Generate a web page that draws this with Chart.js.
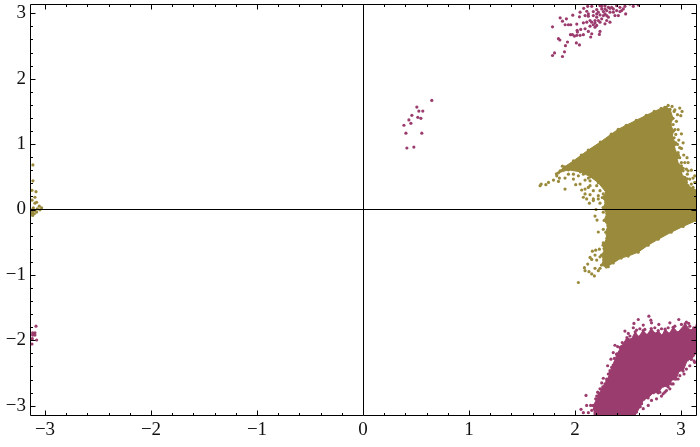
<!DOCTYPE html>
<html>
<head>
<meta charset="utf-8">
<script src="https://cdn.jsdelivr.net/npm/chart.js@4"></script>
<style>
body { margin: 0; background: #fff; }
canvas { display: block; }
</style>
</head>
<body>
<canvas id="myChart" width="700" height="447"></canvas>
<script>
// outline of the solid part of each cloud
var oliveOutline = [[1.825,.545],[1.9,.652],[1.985,.742],[2.06,.833],[2.126,.909],[2.239,1.03],[2.342,1.152],[2.408,1.227],[2.483,1.288],[2.578,1.364],[2.672,1.439],[2.747,1.5],[2.813,1.545],[2.86,1.561],[2.897,1.53],[2.925,1.394],[2.9,1.3],[2.93,1.2],[2.915,1.1],[2.95,1.02],[2.935,.93],[2.975,.83],[2.96,.74],[3.02,.63],[3.0,.54],[3.06,.47],[3.05,.38],[3.151,.288],[3.151,-.136],[3.142,-.167],[3.02,-.258],[2.907,-.348],[2.785,-.455],[2.69,-.545],[2.596,-.652],[2.502,-.712],[2.436,-.742],[2.361,-.818],[2.295,-.879],[2.25,-.85],[2.27,-.77],[2.25,-.697],[2.28,-.62],[2.265,-.545],[2.3,-.44],[2.29,-.348],[2.31,-.25],[2.275,-.167],[2.3,-.06],[2.265,.03],[2.29,.11],[2.258,.182],[2.295,.258],[2.22,.409],[2.145,.5],[2.05,.576],[1.938,.606],[1.844,.561]];
var maroonOutline = [[2.175,-3.0],[2.225,-2.818],[2.262,-2.712],[2.3,-2.621],[2.33,-2.5],[2.36,-2.379],[2.395,-2.212],[2.44,-2.091],[2.49,-1.96],[2.53,-1.99],[2.568,-1.87],[2.6,-1.95],[2.643,-1.85],[2.68,-1.92],[2.719,-1.82],[2.76,-1.9],[2.785,-1.85],[2.82,-1.93],[2.85,-1.83],[2.89,-1.9],[2.926,-1.8],[2.97,-1.88],[3.039,-1.75],[3.09,-1.85],[3.151,-1.77],[3.151,-2.182],[3.095,-2.288],[3.06,-2.3],[3.02,-2.47],[2.985,-2.46],[2.954,-2.591],[2.92,-2.59],[2.879,-2.712],[2.83,-2.7],[2.785,-2.803],[2.74,-2.8],[2.69,-2.88],[2.65,-2.9],[2.615,-3.015],[2.559,-3.167],[2.175,-3.167]];

// loose points around the clouds
var oliveUpperTail = [[1.671,.364],[1.681,.389],[1.725,.379],[1.75,.414],[1.797,.45],[1.844,.429],[1.853,.48],[1.828,.515],[1.86,.591],[1.881,.662],[1.906,.313],[1.938,.54],[1.906,.48],[1.985,.465],[2.007,.379],[2.048,.389],[2.063,.298],[2.095,.238],[2.126,.338],[2.095,.45],[2.142,.439],[2.173,.162],[2.22,.212],[2.11,.162],[2.205,.364],[2.251,.414],[1.985,.54],[2.032,.515],[2.079,.54],[2.126,.48],[2.173,.515],[2.22,.465],[2.142,.364],[2.173,.288],[2.095,.313],[2.236,.288],[2.142,.227],[2.079,.187],[2.22,.162],[2.267,.238],[2.299,.313]];
var oliveRightEdge = [[2.988,1.55],[3.01,1.5],[2.967,1.45],[2.998,1.434],[2.942,1.222],[2.951,1.147],[3.004,1.157],[2.979,1.061],[3.02,1.02],[2.942,.995],[2.988,.945],[3.004,.934],[3.026,.833],[2.967,.793],[3.057,.793],[3.004,.667],[3.067,.717],[3.051,.616],[3.098,.601],[3.06,.54],[3.114,.48],[3.13,.515],[3.13,.414],[3.067,.364],[3.114,.338],[3.083,.263],[3.13,.177],[2.935,1.5],[2.957,1.348],[2.926,1.298],[2.973,1.222],[2.935,1.096],[2.967,.995],[2.942,.894],[2.973,.869],[2.988,.793],[2.957,.717],[3.004,.717],[3.036,.717],[3.02,.591],[2.988,.566],[3.067,.591],[3.036,.49],[3.083,.465],[3.02,.414],[3.051,.414],[3.098,.389],[3.067,.288],[3.02,.288],[3.036,.212],[3.098,.238],[2.847,1.561],[2.879,1.591],[2.916,1.576],[2.942,1.525]];
var oliveLowerTail = [[2.136,.096],[2.173,.136],[2.198,-.0],[2.236,.096],[2.267,-.041],[2.189,-.101],[2.208,-.162],[2.22,-.344],[2.267,-.303],[2.267,-.51],[2.164,-.637],[2.195,-.622],[2.23,-.606],[2.274,-.596],[2.142,-.733],[2.189,-.697],[2.158,-.763],[2.12,-.834],[2.205,-.773],[2.236,-.723],[2.089,-.889],[2.095,-.935],[2.132,-.95],[2.158,-.985],[2.183,-1.015],[2.22,-.935],[2.236,-.899],[2.189,-.899],[2.283,-.849],[2.314,-.874],[2.032,-1.116],[2.267,-.697]];
var oliveLeft = [[-3.114,.682],[-3.114,.439],[-3.123,.293],[-3.085,.273],[-3.123,.142],[-3.095,.187],[-3.095,.096],[-3.079,.111],[-3.054,.051],[-3.032,.025],[-3.073,.01],[-3.095,-.015],[-3.117,-.04],[-3.079,-.04],[-3.117,-.091],[-3.126,-.025],[-3.101,-.065],[-3.123,-.065],[-3.123,-.005],[-3.048,-.005],[-3.11,.025]];
var maroonEdge = [[2.697,-1.631],[2.597,-1.682],[2.556,-1.742],[2.644,-1.767],[2.722,-1.732],[2.716,-1.692],[2.791,-1.757],[2.895,-1.732],[2.979,-1.682],[3.051,-1.722],[3.073,-1.742],[3.12,-1.808],[2.471,-1.858],[2.55,-1.808],[2.612,-1.823],[2.518,-1.934],[2.377,-2.075],[2.402,-2.096],[2.446,-2.035],[2.361,-2.187],[2.339,-2.288],[2.371,-2.277],[2.308,-2.389],[2.33,-2.464],[2.361,-2.49],[2.267,-2.58],[2.299,-2.591],[2.252,-2.651],[2.214,-2.792],[2.205,-2.853],[2.236,-2.742],[2.104,-2.843],[2.11,-2.995],[2.148,-2.995],[2.057,-3.055],[2.079,-3.106],[2.126,-3.106],[2.22,-2.969],[2.183,-3.045],[2.691,-2.995],[2.628,-2.969],[2.816,-2.853],[2.863,-2.767],[2.832,-2.818],[2.895,-2.742],[2.926,-2.666],[2.973,-2.591],[3.029,-2.515],[3.083,-2.389],[3.123,-2.313],[3.136,-2.161],[3.067,-2.212],[3.13,-2.338],[2.503,-1.894],[2.581,-1.843],[2.659,-1.833],[2.753,-1.808],[2.816,-1.823],[2.879,-1.808],[2.942,-1.783],[3.004,-1.757],[3.083,-1.783],[3.114,-1.858],[3.136,-1.934],[2.424,-2.111],[2.456,-2.161],[2.393,-2.212],[2.377,-2.338],[2.346,-2.414],[2.314,-2.515],[2.283,-2.666],[2.258,-2.742],[2.245,-2.853],[2.236,-2.944],[2.195,-2.894],[2.173,-2.995],[2.252,-3.045],[2.214,-3.096],[2.158,-3.07],[2.283,-3.096],[2.581,-3.096],[2.644,-3.045],[2.722,-2.919],[2.769,-2.894],[2.8,-2.793],[2.848,-2.793],[2.91,-2.666],[2.942,-2.591],[2.989,-2.54],[3.051,-2.439],[3.098,-2.288],[3.114,-2.237]];
var maroonTop = [[1.788,2.793],[1.807,2.394],[1.788,2.354],[1.882,2.339],[1.901,2.41],[1.91,2.505],[1.929,2.561],[1.844,2.611],[1.857,2.591],[2.013,2.546],[2.042,2.516],[1.957,2.672],[1.976,2.672],[1.995,2.652],[2.02,2.738],[2.023,2.712],[2.017,2.662],[2.048,2.662],[2.079,2.672],[2.148,2.637],[2.158,2.687],[2.126,2.723],[2.095,2.763],[2.054,2.753],[2.017,2.834],[1.96,2.824],[1.938,2.824],[1.907,2.824],[1.882,2.879],[1.86,2.93],[1.919,2.915],[1.979,2.97],[2.042,2.945],[2.048,3.016],[2.082,3.076],[2.12,3.106],[2.158,3.106],[2.111,3.031],[2.095,2.965],[2.126,2.955],[2.173,3.026],[2.205,3.056],[2.236,3.116],[2.252,3.106],[2.283,3.116],[2.315,3.091],[2.346,3.091],[2.393,3.116],[2.424,3.091],[2.471,3.106],[2.55,3.106],[2.478,2.99],[2.44,3.041],[2.409,2.965],[2.377,2.965],[2.33,3.016],[2.299,3.041],[2.268,3.026],[2.236,2.975],[2.205,2.94],[2.189,2.889],[2.158,2.864],[2.173,2.824],[2.205,2.814],[2.236,2.864],[2.283,2.839],[2.299,2.889],[2.33,2.864],[2.315,2.94],[2.252,2.915],[2.142,2.889],[2.111,2.864],[2.079,2.854],[2.236,2.723],[2.23,2.677],[2.189,2.788],[2.142,2.803],[2.362,3.066],[2.393,3.041],[2.252,3.066],[2.283,2.99],[2.126,2.99],[2.597,3.127],[2.518,3.14],[2.33,3.076],[2.362,3.016],[2.424,3.026],[2.456,3.066],[2.283,3.066],[2.22,3.016],[2.205,2.99],[2.173,2.965],[2.268,2.965],[2.299,2.965],[2.22,2.889],[2.189,2.854]];
var maroonMiddle = [[.649,1.667],[.508,1.566],[.527,1.505],[.564,1.505],[.461,1.44],[.517,1.409],[.546,1.394],[.433,1.369],[.452,1.318],[.386,1.288],[.405,1.167],[.555,1.167],[.414,.94],[.48,.955]];
var maroonLeft = [[-3.085,-1.783],[-3.117,-1.884],[-3.095,-1.884],[-3.117,-1.919],[-3.095,-1.919],[-3.104,-1.9],[-3.12,-1.975],[-3.079,-1.995],[-3.123,-2.056]];

var olive = "#9a8a3c";
var maroon = "#9b3c6e";

function toPoints(list) {
  return list.map(function (p) { return { x: p[0], y: p[1] }; });
}

function cloud(list, color) {
  return {
    data: toPoints(list), showLine: true, fill: "shape", tension: 0,
    backgroundColor: color, borderColor: color, borderWidth: 1,
    pointRadius: 1.6, pointBackgroundColor: color, pointBorderWidth: 0
  };
}

function loose(list, color) {
  return { data: toPoints(list), pointRadius: 1.6, pointBackgroundColor: color, pointBorderWidth: 0 };
}

function isWhole(v) {
  return Math.abs(v - Math.round(v)) < 1e-6;
}

function axisOptions(fit) {
  return {
    type: "linear",
    min: -Math.PI,
    max: Math.PI,
    afterFit: fit,
    border: { display: false },
    grid: {
      z: 1,
      drawTicks: false,
      lineWidth: 1,
      color: function (c) {
        return c.tick && Math.abs(c.tick.value) < 1e-6 ? "#000" : "rgba(0,0,0,0)";
      }
    },
    ticks: {
      stepSize: 0.2,
      includeBounds: false,
      autoSkip: false,
      maxRotation: 0,
      padding: 4,
      color: "#111",
      font: { family: "'Liberation Serif'", size: 19 },
      callback: function (v) {
        if (!isWhole(v)) return "";
        var n = Math.round(v);
        return n < 0 ? "\u2212" + (-n) : "" + n;
      }
    }
  };
}

// frame with inward ticks on all four sides
var framePlugin = {
  id: "frame",
  afterDraw: function (chart) {
    var c = chart.ctx, a = chart.chartArea;
    var l = a.left + 0.5, r = a.right + 0.5, t = a.top + 0.5, b = a.bottom + 0.5;
    c.save();
    c.strokeStyle = "#000";
    c.lineWidth = 1;
    c.beginPath();
    c.rect(l, t, r - l, b - t);
    chart.scales.x.ticks.forEach(function (tick) {
      var px = Math.round(chart.scales.x.getPixelForValue(tick.value)) + 0.5;
      var len = isWhole(tick.value) ? 5 : 2.5;
      c.moveTo(px, b); c.lineTo(px, b - len);
      c.moveTo(px, t); c.lineTo(px, t + len);
    });
    chart.scales.y.ticks.forEach(function (tick) {
      var py = Math.round(chart.scales.y.getPixelForValue(tick.value)) + 0.5;
      var len = isWhole(tick.value) ? 5 : 2.5;
      c.moveTo(l, py); c.lineTo(l + len, py);
      c.moveTo(r, py); c.lineTo(r - len, py);
    });
    c.stroke();
    c.restore();
  }
};

new Chart(document.getElementById("myChart").getContext("2d"), {
  type: "scatter",
  data: {
    datasets: [
      cloud(oliveOutline, olive),
      loose(oliveUpperTail, olive),
      loose(oliveRightEdge, olive),
      loose(oliveLowerTail, olive),
      loose(oliveLeft, olive),
      cloud(maroonOutline, maroon),
      loose(maroonEdge, maroon),
      loose(maroonTop, maroon),
      loose(maroonMiddle, maroon),
      loose(maroonLeft, maroon)
    ]
  },
  options: {
    responsive: false,
    animation: false,
    layout: { padding: { top: 2, right: 2 } },
    plugins: { legend: { display: false }, tooltip: { enabled: false } },
    scales: {
      x: axisOptions(function (s) { s.height = 32; s.paddingLeft = 0; s.paddingRight = 0; }),
      y: axisOptions(function (s) { s.width = 30; s.paddingTop = 0; s.paddingBottom = 0; })
    }
  },
  plugins: [framePlugin]
});
</script>
</body>
</html>
